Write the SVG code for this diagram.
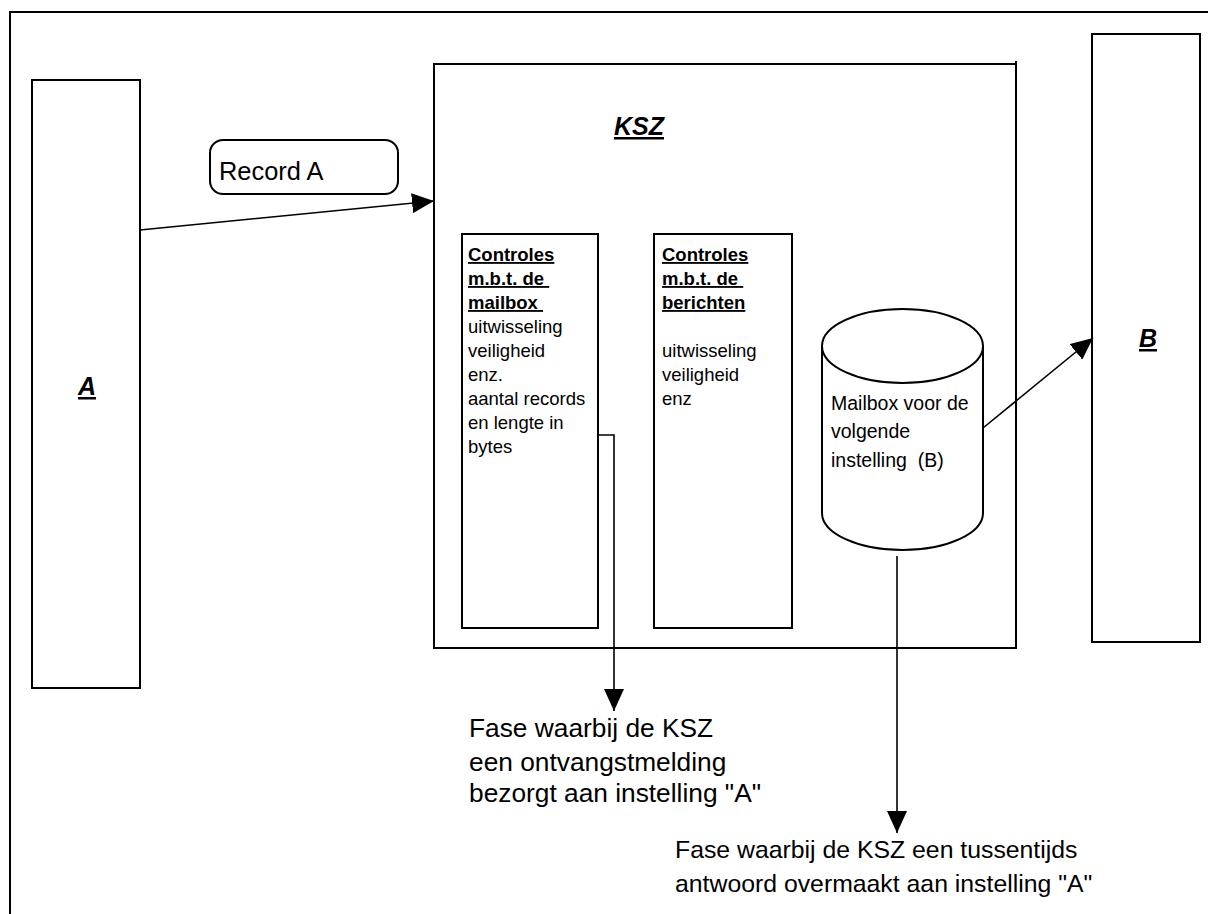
<svg xmlns="http://www.w3.org/2000/svg" width="1208" height="914" viewBox="0 0 1208 914">
<style>
.box{fill:#fff;stroke:#000;stroke-width:2}
.ln{fill:none;stroke:#000;stroke-width:1.6}
text{font-family:"Liberation Sans",Arial,sans-serif;fill:#000}
.t{font-size:18.5px}
.h{font-size:18.5px;font-weight:bold;text-decoration:underline}
.lab{font-size:25px;font-weight:bold;font-style:italic;text-decoration:underline}
.big{font-size:25.4px}
.n1{font-size:26.3px}
.n2{font-size:24.8px}
</style>
<defs>
<marker id="arr" markerWidth="22" markerHeight="20" refX="22" refY="10" orient="auto" markerUnits="userSpaceOnUse">
<path d="M0,0 L22,10 L0,20 Z" fill="#000"/>
</marker>
</defs>
<rect x="0" y="0" width="1208" height="914" fill="#fff"/>
<rect id="frame" x="10" y="12" width="1212" height="914" fill="none" stroke="#000" stroke-width="2"/>
<g id="nodeA">
<rect class="box" x="32" y="80" width="108" height="608"/>
<text class="lab" x="87" y="395" text-anchor="middle">A</text>
</g>
<g id="nodeKSZ">
<rect class="box" x="434" y="64" width="582" height="584"/>
<line x1="1016" y1="61" x2="1016" y2="64" stroke="#000" stroke-width="2"/>
<text class="lab" x="639" y="135" text-anchor="middle">KSZ</text>
</g>
<g id="nodeB">
<rect class="box" x="1092" y="34" width="108" height="608"/>
<text class="lab" x="1148" y="347" text-anchor="middle">B</text>
</g>
<g id="recordA">
<rect class="box" x="210" y="140" width="188" height="54" rx="13" ry="13"/>
<text class="big" x="219" y="180">Record A</text>
</g>
<g id="ctrlMailbox">
<rect class="box" x="462" y="234" width="136" height="394"/>
<text class="h" x="468" y="261">Controles</text>
<text class="h" x="468" y="285" xml:space="preserve">m.b.t. de </text>
<text class="h" x="468" y="309" xml:space="preserve">mailbox </text>
<text class="t" x="468" y="333">uitwisseling</text>
<text class="t" x="468" y="357">veiligheid</text>
<text class="t" x="468" y="381">enz.</text>
<text class="t" x="468" y="405">aantal records</text>
<text class="t" x="468" y="429">en lengte in</text>
<text class="t" x="468" y="453">bytes</text>
</g>
<g id="ctrlBerichten">
<rect class="box" x="654" y="234" width="138" height="394"/>
<text class="h" x="662" y="261">Controles</text>
<text class="h" x="662" y="285" xml:space="preserve">m.b.t. de </text>
<text class="h" x="662" y="309">berichten</text>
<text class="t" x="662" y="357">uitwisseling</text>
<text class="t" x="662" y="381">veiligheid</text>
<text class="t" x="662" y="405">enz</text>
</g>
<g id="mailbox">
<path d="M822,346 L822,513 A80.5,37 0 0 0 983,513 L983,346 A80.5,37 0 0 0 822,346 Z" fill="#fff" stroke="#000" stroke-width="2"/>
<path d="M822,346 A80.5,37 0 0 0 983,346" fill="none" stroke="#000" stroke-width="2"/>
<text class="t" style="font-size:19.5px" x="831" y="410">Mailbox voor de</text>
<text class="t" style="font-size:19.5px" x="831" y="438">volgende</text>
<text class="t" style="font-size:19.5px" x="831" y="467" xml:space="preserve">instelling  (B)</text>
</g>
<g id="connectors">
<line class="ln" x1="140" y1="230" x2="434" y2="201" marker-end="url(#arr)"/>
<line class="ln" x1="983" y1="428" x2="1093" y2="338" marker-end="url(#arr)"/>
<polyline class="ln" points="598,435 614,435 614,711" marker-end="url(#arr)"/>
<line class="ln" x1="897" y1="556" x2="897" y2="833" marker-end="url(#arr)"/>
</g>
<g id="note1">
<text class="n1" x="469" y="737">Fase waarbij de KSZ</text>
<text class="n1" x="469" y="771">een ontvangstmelding</text>
<text class="n1" x="469" y="802">bezorgt aan instelling "A"</text>
</g>
<g id="note2">
<text class="n2" x="675" y="858">Fase waarbij de KSZ een tussentijds</text>
<text class="n2" x="675" y="892">antwoord overmaakt aan instelling "A"</text>
</g>
</svg>
